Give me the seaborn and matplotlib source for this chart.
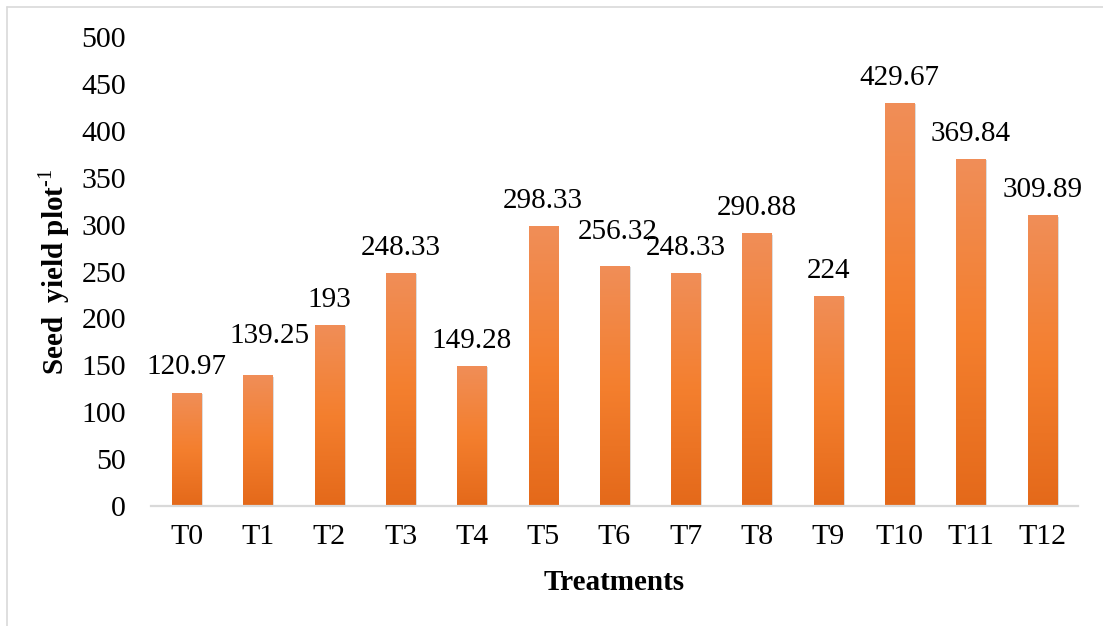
import numpy as np
import pandas as pd
import matplotlib
matplotlib.use("Agg")
import matplotlib.pyplot as plt
import matplotlib.patheffects as pe
from matplotlib.colors import LinearSegmentedColormap
from matplotlib.lines import Line2D
import seaborn as sns

treatments = ["T0", "T1", "T2", "T3", "T4", "T5", "T6", "T7", "T8", "T9", "T10", "T11", "T12"]
seed_yield = [120.97, 139.25, 193, 248.33, 149.28, 298.33, 256.32, 248.33, 290.88, 224, 429.67, 369.84, 309.89]
value_labels = ["120.97", "139.25", "193", "248.33", "149.28", "298.33", "256.32", "248.33",
                "290.88", "224", "429.67", "369.84", "309.89"]
y_ticks = [0, 50, 100, 150, 200, 250, 300, 350, 400, 450, 500]

# label nudges (points) to mimic the manual placement in the reference
label_dx = {1: 8, 6: 2}
label_dy = {1: 10, 6: 6}

sns.set_theme(style="white")
plt.rcParams["font.family"] = ["Liberation Serif", "DejaVu Serif"]
plt.rcParams["mathtext.fontset"] = "custom"
plt.rcParams["mathtext.rm"] = "Liberation Serif"
plt.rcParams["mathtext.bf"] = "Liberation Serif:bold"

fig = plt.figure(figsize=(11.03, 6.26), dpi=100)
ax = fig.add_axes([151 / 1103, 1 - 506 / 626, (1078 - 151) / 1103, (506 - 37) / 626])

df = pd.DataFrame({"Treatment": treatments, "Yield": seed_yield})
sns.barplot(data=df, x="Treatment", y="Yield", color="#F47F2F", width=0.41, ax=ax,
            saturation=1, errorbar=None)

cmap = LinearSegmentedColormap.from_list("g", ["#E4691A", "#F47F2E", "#F08E58"])
grad = np.linspace(0, 1, 256).reshape(-1, 1)
for p in list(ax.patches):
    x0, y0 = p.get_x(), p.get_y()
    w, h = p.get_width(), p.get_height()
    p.set_facecolor("none")
    p.set_edgecolor("none")
    p.set_path_effects([pe.SimplePatchShadow(offset=(1.2, -1.0), shadow_rgbFace="#8C8C8C", alpha=0.3)])
    im = ax.imshow(grad, cmap=cmap, origin="lower", aspect="auto",
                   extent=[x0, x0 + w, y0, y0 + h], zorder=3)
    im.set_clip_path(p)

for i, (v, lab) in enumerate(zip(seed_yield, value_labels)):
    ax.annotate(lab, xy=(i, v), xytext=(label_dx.get(i, 0), 13 + label_dy.get(i, 0)),
                textcoords="offset points", ha="center", va="baseline",
                fontsize=21, color="black", zorder=5)

ax.set_xlim(-0.5, len(treatments) - 0.5)
ax.set_ylim(0, 500)
ax.set_yticks(y_ticks)
ax.set_yticklabels([str(t) for t in y_ticks])
ax.tick_params(axis="both", length=0, labelsize=21.5, colors="black")
ax.tick_params(axis="y", pad=18)
ax.tick_params(axis="x", pad=13)

for s in ["top", "right", "left"]:
    ax.spines[s].set_visible(False)
ax.spines["bottom"].set_color("#D9D9D9")
ax.spines["bottom"].set_linewidth(1.6)
ax.spines["bottom"].set_zorder(4)

ax.set_xlabel("Treatments", fontsize=21, fontweight="bold", color="black")
ax.set_ylabel(r"Seed  yield plot$^{\text{-1}}$", fontsize=21, fontweight="bold", color="black")
ax.xaxis.set_label_coords(0.5, -(583 - 506) / 469)
ax.yaxis.set_label_coords(-(151 - 54) / 927, 0.5)
ax.xaxis.label.set_va("center")
ax.yaxis.label.set_va("center")

# outer chart border (top and left visible)
fig.add_artist(Line2D([7 / 1103, 7 / 1103], [0, 1 - 7 / 626], transform=fig.transFigure,
                      color="#D9D9D9", linewidth=1.2))
fig.add_artist(Line2D([7 / 1103, 1], [1 - 7 / 626, 1 - 7 / 626], transform=fig.transFigure,
                      color="#D9D9D9", linewidth=1.2))

fig.savefig("out.png", dpi=100)
